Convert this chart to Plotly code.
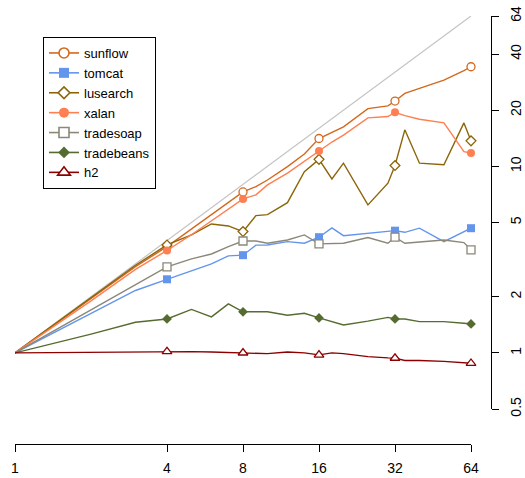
import math
import plotly.graph_objects as go

THREADS = [1, 2, 3, 4, 5, 6, 7, 8, 9, 10, 12, 14, 16, 18, 20, 25, 30, 32, 35, 40, 50, 60, 64]
MARK_AT = [4, 8, 16, 32, 64]

sunflow = [1, 1.97, 2.9, 3.71, 4.6, 5.5, 6.4, 7.29, 7.79, 8.45, 9.96, 11.65, 14.1, 15.2, 16.3, 20.4, 21.1, 22.4, 24.6, 26.2, 29.0, 32.6, 34.2]
tomcat = [1, 1.62, 2.16, 2.48, 2.76, 3.0, 3.31, 3.34, 3.78, 3.79, 3.95, 3.87, 4.17, 4.68, 4.25, 4.38, 4.47, 4.52, 4.43, 4.66, 3.95, 4.46, 4.66]
lusearch = [1, 1.99, 2.95, 3.79, 4.29, 4.91, 4.79, 4.47, 5.44, 5.51, 6.39, 9.37, 10.9, 8.56, 10.4, 6.21, 8.12, 10.1, 15.7, 10.4, 10.2, 17.1, 13.7]
xalan = [1, 1.9, 2.8, 3.54, 4.3, 5.1, 5.9, 6.69, 7.03, 7.95, 9.2, 10.6, 12.1, 13.5, 14.7, 18.2, 18.5, 19.5, 18.7, 17.9, 17.1, 12.0, 11.8]
tradesoap = [1, 1.7, 2.31, 2.89, 3.19, 3.39, 3.71, 3.98, 3.98, 3.87, 4.03, 4.29, 3.84, 3.84, 3.87, 4.15, 3.87, 4.17, 3.87, 3.93, 4.03, 3.9, 3.57]
tradebeans = [1, 1.26, 1.46, 1.52, 1.71, 1.56, 1.83, 1.66, 1.66, 1.66, 1.59, 1.63, 1.54, 1.47, 1.41, 1.48, 1.55, 1.52, 1.52, 1.47, 1.47, 1.44, 1.43]
h2 = [1, 1.01, 1.01, 1.016, 1.015, 1.01, 1.005, 1.0, 1.0, 0.99, 1.01, 1.0, 0.975, 1.0, 0.99, 0.955, 0.94, 0.937, 0.91, 0.91, 0.90, 0.89, 0.88]

IDEAL_X = [1, 64]
IDEAL_Y = [1, 64]

X_TICKS = [1, 4, 8, 16, 32, 64]
Y_TICKS = [0.5, 1, 2, 5, 10, 20, 40, 64]
Y_TICK_TEXT = ["0.5", "1", "2", "5", "10", "20", "40", "64"]

SERIES = [
    ("sunflow", sunflow, "#D2691E", "circle", True),
    ("tomcat", tomcat, "#6495ED", "square", False),
    ("lusearch", lusearch, "#8B6508", "diamond", True),
    ("xalan", xalan, "#FF7F50", "circle", False),
    ("tradesoap", tradesoap, "#8B8878", "square", True),
    ("tradebeans", tradebeans, "#556B2F", "diamond", False),
    ("h2", h2, "#8B0000", "triangle-up", True),
]
SIZES = {"circle": 8, "square": 8, "diamond": 7.5, "triangle-up": 8.5}
LEG_SIZES = {"circle": 10, "square": 10, "diamond": 9, "triangle-up": 11}

fig = go.Figure()
fig.add_trace(go.Scatter(x=IDEAL_X, y=IDEAL_Y, mode="lines",
                         line=dict(color="#C4C4C4", width=1.2),
                         showlegend=False, hoverinfo="skip"))

for name, ys, col, sym, hollow in SERIES:
    fig.add_trace(go.Scatter(x=THREADS, y=ys, mode="lines",
                             line=dict(color=col, width=1.4),
                             showlegend=False, cliponaxis=False))
    mx = [x for x in THREADS if x in MARK_AT]
    my = [y for x, y in zip(THREADS, ys) if x in MARK_AT]
    fig.add_trace(go.Scatter(x=mx, y=my, mode="markers",
                             marker=dict(symbol=sym, size=SIZES[sym],
                                         color="white" if hollow else col,
                                         line=dict(color=col, width=1.3 if hollow else 0)),
                             showlegend=False, cliponaxis=False))
    fig.add_trace(go.Scatter(x=[None], y=[None], mode="lines+markers", name=name,
                             line=dict(color=col, width=1.6),
                             marker=dict(symbol=sym, size=LEG_SIZES[sym],
                                         color="white" if hollow else col,
                                         line=dict(color=col, width=1.6 if hollow else 0)),
                             showlegend=True))

W, H = 525, 478
L, R, T, B = 15, 34, 16, 34
pw = W - L - R
ph = H - T - B
x_end = (471 - L) / pw
y_start = (444 - 409) / ph

fig.update_layout(
    width=W, height=H,
    margin=dict(l=L, r=R, t=T, b=B, pad=0, autoexpand=False),
    paper_bgcolor="white", plot_bgcolor="white",
    font=dict(family="Liberation Sans, Arial, sans-serif", size=14, color="black"),
    xaxis=dict(type="log", domain=[0, x_end], range=[0, math.log10(64)],
               anchor="free", position=0, automargin=False,
               tickvals=X_TICKS, ticktext=[str(v) for v in X_TICKS],
               ticks="outside", ticklen=7, tickwidth=1, tickcolor="black",
               ticklabelstandoff=4,
               showline=True, linecolor="black", linewidth=1,
               showgrid=False, zeroline=False, tickfont=dict(size=14)),
    yaxis=dict(type="log", domain=[y_start, 1], range=[math.log10(0.5), math.log10(64)],
               anchor="free", position=1, side="right", automargin=False,
               tickvals=Y_TICKS, ticktext=Y_TICK_TEXT, tickangle=-90,
               ticks="outside", ticklen=7, tickwidth=1, tickcolor="black",
               ticklabelstandoff=5,
               showline=True, linecolor="black", linewidth=1,
               showgrid=False, zeroline=False, tickfont=dict(size=14)),
    legend=dict(x=(43 - L) / pw, y=(444 - 37) / ph, xanchor="left", yanchor="top",
                bordercolor="black", borderwidth=1, bgcolor="white",
                font=dict(size=13), tracegroupgap=0),
)

fig.write_html("out.html", config={"displayModeBar": False},
               post_script="document.body.style.margin='0';document.body.style.overflow='hidden';")
